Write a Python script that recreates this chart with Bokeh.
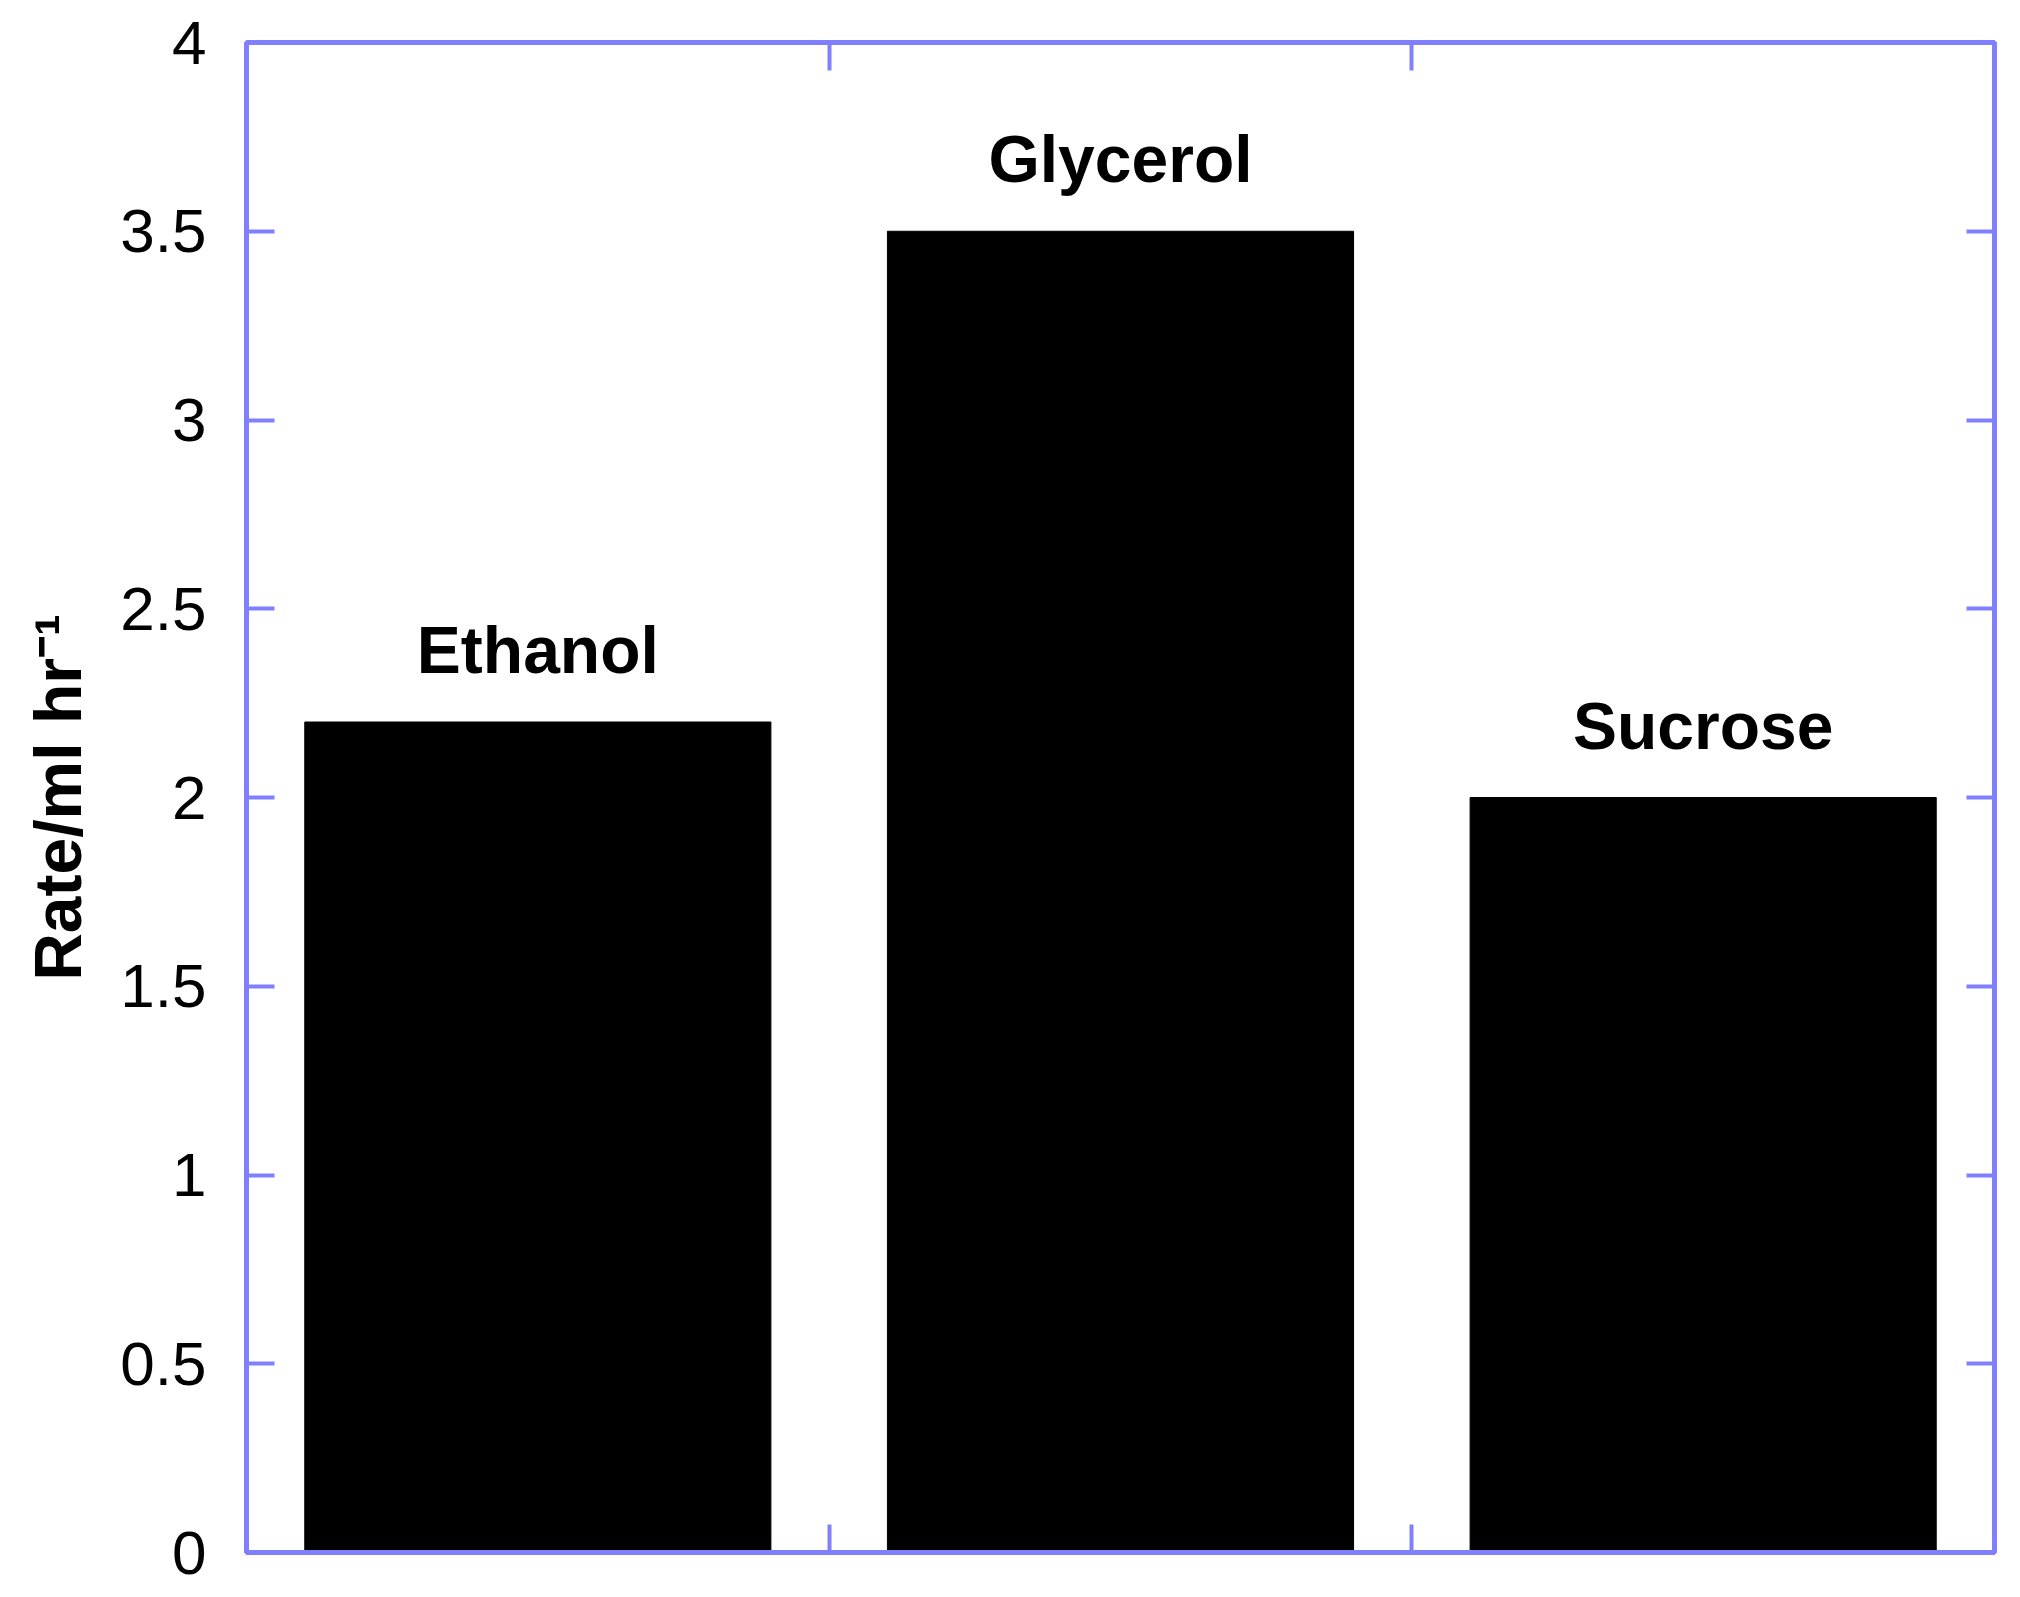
import numpy as np
from bokeh.plotting import figure
from bokeh.models import Range1d, LinearAxis, FixedTicker, ColumnDataSource
from bokeh.core.properties import value
from bokeh.embed import file_html
from bokeh.resources import INLINE

categories = ["Ethanol", "Glycerol", "Sucrose"]
rates = [2.2, 3.5, 2.0]
y_ticks = [0, 0.5, 1, 1.5, 2, 2.5, 3, 3.5, 4]
y_label = "Rate/ml hr\u207b\u00b9"

FONT = "Liberation Sans"
BLUE = "#8080ff"

x = np.arange(len(categories)) + 0.5
src = ColumnDataSource(dict(x=x, top=rates, name=categories))

p = figure(width=2004, height=1588, output_backend="svg", toolbar_location=None,
           x_range=Range1d(0, len(categories)), y_range=Range1d(0, 4),
           min_border_left=246, min_border_top=42, min_border_right=10, min_border_bottom=36,
           x_axis_location=None, y_axis_location=None)

p.vbar(x="x", top="top", bottom=0, width=0.8, source=src, fill_color="black", line_color="black")
p.text(x="x", y="top", text="name", source=src, text_align="center", text_baseline="middle",
       y_offset=-72, text_font=value(FONT), text_font_style="bold", text_font_size="66px",
       text_color="black")

def style_axis(ax, labels):
    ax.axis_line_color = BLUE
    ax.axis_line_width = 5
    ax.major_tick_line_color = BLUE
    ax.major_tick_line_width = 4
    ax.major_tick_in = 28
    ax.major_tick_out = 0
    ax.minor_tick_line_color = None
    if not labels:
        ax.major_label_text_font_size = "0px"
        ax.major_label_text_color = None

left = LinearAxis(ticker=FixedTicker(ticks=y_ticks))
style_axis(left, True)
left.major_label_text_font = FONT
left.major_label_text_font_size = "62px"
left.major_label_text_color = "black"
left.major_label_standoff = 40
left.axis_label = y_label
left.axis_label_text_font = FONT
left.axis_label_text_font_style = "bold"
left.axis_label_text_font_size = "66px"
left.axis_label_text_color = "black"
left.axis_label_standoff = 22
p.add_layout(left, "left")

right = LinearAxis(ticker=FixedTicker(ticks=y_ticks))
style_axis(right, False)
p.add_layout(right, "right")

x_ticks = list(range(1, len(categories)))
for loc in ("above", "below"):
    ax = LinearAxis(ticker=FixedTicker(ticks=x_ticks))
    style_axis(ax, False)
    p.add_layout(ax, loc)

p.outline_line_color = BLUE
p.outline_line_width = 5
p.xgrid.visible = False
p.ygrid.visible = False
p.background_fill_color = "white"
p.border_fill_color = "white"

open("out.html", "w").write(file_html(p, INLINE))
